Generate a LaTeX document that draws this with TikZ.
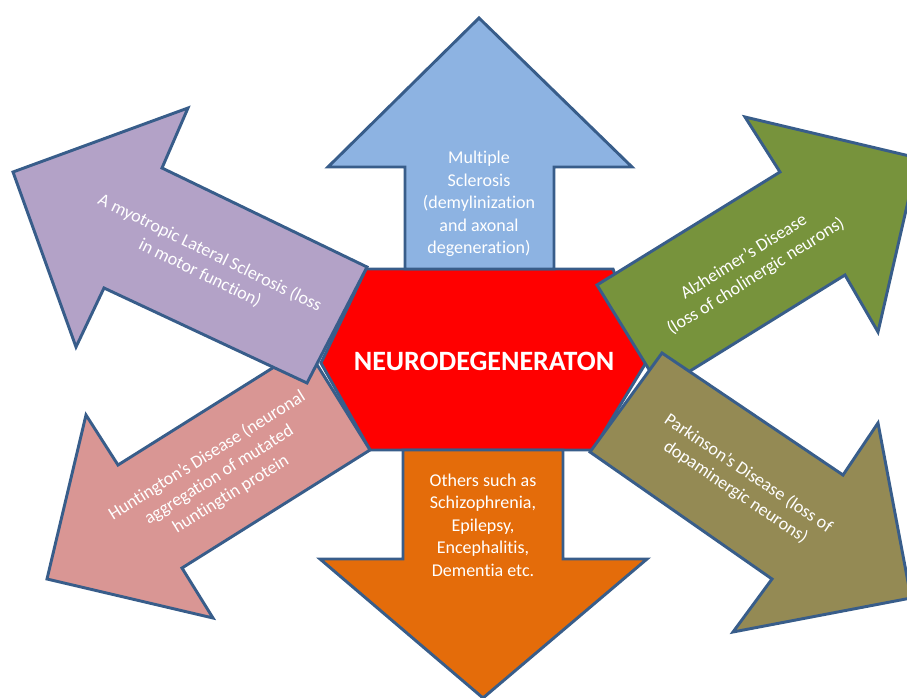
\documentclass[tikz,border=0pt]{standalone}
\usepackage{fontspec}
\setmainfont{Carlito}[Ligatures=NoCommon]
\usepackage{tikz}

\definecolor{edgeblue}{HTML}{385D8A}
\definecolor{msblue}{HTML}{8DB3E2}
\definecolor{othersorange}{HTML}{E46C0A}
\definecolor{alspurple}{HTML}{B3A2C7}
\definecolor{hdpink}{HTML}{D99694}
\definecolor{adgreen}{HTML}{77933C}
\definecolor{pdolive}{HTML}{948A54}

\tikzset{
  bigarrow/.style = {draw = edgeblue, line width = 2.2pt, line join = miter},
  arrowtext/.style = {text = white, align = center, inner sep = 0pt,
    font = \fontsize{13.5}{16.9}\selectfont},
}

\begin{document}
\begin{tikzpicture}[x = 0.75pt, y = -0.75pt]
\useasboundingbox (0,0) rectangle (907,698);

% centre hexagon
\fill[red, bigarrow] (366,269)--(613,269)--(647,361)--(593,450)--(370,450)--(321,363)--cycle;
\node[text = white, font = \fontsize{21}{25}\selectfont\bfseries] (neuro) at (484,361) {NEURODEGENERATON};

% up and down
\fill[msblue, bigarrow] (405,269)--(405,167)--(328,167)--(479,18)--(632,167)--(554,167)--(554,269)--cycle;
\fill[othersorange, bigarrow] (403,450)--(403,559)--(320,559)--(483,698)--(647,559)--(563,559)--(563,450)--cycle;

% left side
\fill[hdpink, bigarrow] (306,347)--(118,465)--(86,415)--(47,579)--(213,618)--(182,568)--(370,450)--cycle;
\fill[alspurple, bigarrow] (367,267)--(162,168)--(188,108)--(13,172)--(76,347)--(104,288)--(307,383)--cycle;

% right side
\fill[adgreen, bigarrow] (597,285)--(780,172)--(745,117)--(918,158)--(878,332)--(845,275)--(661,389)--cycle;
\fill[pdolive, bigarrow] (662,353)--(843,475)--(878,423)--(911,598)--(733,632)--(772,579)--(590,452)--cycle;

\node[arrowtext] (ms) at (479,204) {Multiple\\Sclerosis\\(demylinization\\and axonal\\degeneration)};
\node[arrowtext] (others) at (483,525) {Others such as\\Schizophrenia,\\Epilepsy,\\Encephalitis,\\Dementia etc.};
\node[arrowtext, rotate = -26] (als) at (205,263) {A myotropic Lateral Sclerosis (loss\\in motor function)};
\node[arrowtext, rotate = 32] (hd) at (219,475) {Huntington’s Disease (neuronal\\aggregation of mutated\\huntingtin protein};
\node[arrowtext, rotate = 32] (ad) at (750,267) {Alzheimer’s Disease\\(loss of cholinergic neurons)};
\node[arrowtext, rotate = -34] (pd) at (742,483) {Parkinson’s Disease (loss of\\dopaminergic neurons)};
\end{tikzpicture}
\end{document}
